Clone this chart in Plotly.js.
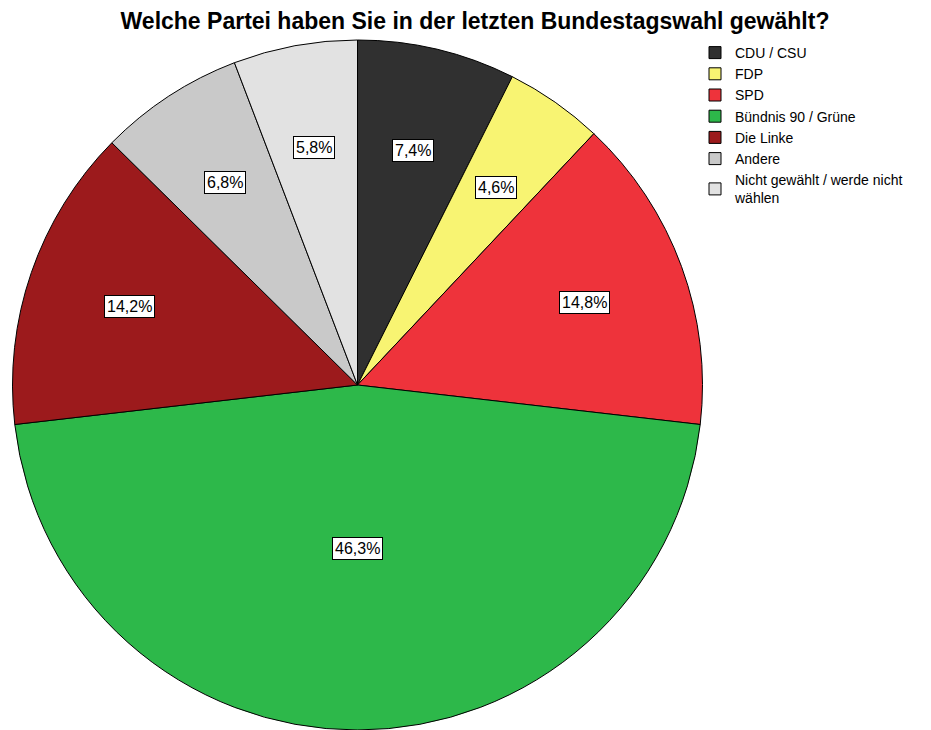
<!DOCTYPE html>
<html>
<head>
<meta charset="utf-8">
<script src="https://cdn.plot.ly/plotly-3.0.1.min.js"></script>
<style>html,body{margin:0;padding:0;background:#fff;}#chart{width:931px;height:730px;}</style>
</head>
<body>
<div id="chart"></div>
<script>
const categories = ["CDU / CSU", "FDP", "SPD", "Bündnis 90 / Grüne", "Die Linke", "Andere", "Nicht gewählt / werde nicht<br>wählen"];
const values = [7.4, 4.6, 14.8, 46.3, 14.2, 6.8, 5.8];
const valueLabels = ["7,4%", "4,6%", "14,8%", "46,3%", "14,2%", "6,8%", "5,8%"];
const colors = ["#303030", "#f8f472", "#ee333b", "#2db84a", "#9c1a1c", "#c9c9c9", "#e2e2e2"];

const W = 931, H = 730;
const domX = [12 / W, 703 / W];
const domY = [0, 1 - 40 / H];

// pie geometry derived from domain (pixels)
const dx0 = domX[0] * W, dx1 = domX[1] * W;
const dyTop = (1 - domY[1]) * H, dyBot = (1 - domY[0]) * H;
const R = Math.min(dx1 - dx0, dyBot - dyTop) / 2;
const cx = (dx0 + dx1) / 2, cy = (dyTop + dyBot) / 2;

const total = values.reduce((a, b) => a + b, 0);
let cum = 0;
const annotations = values.map((v, i) => {
  const frac = v / total;
  const mid = (cum + frac / 2) * 2 * Math.PI;
  cum += frac;
  const half = frac * Math.PI;
  let rf = 2 * Math.sin(half) / (3 * half) + 0.02;
  if (frac < 0.3) rf = 0.7;
  const px = cx + rf * R * Math.sin(mid);
  const py = cy - rf * R * Math.cos(mid);
  return {
    x: px / W, y: 1 - py / H, xref: "paper", yref: "paper",
    text: valueLabels[i], showarrow: false,
    font: {family: "Liberation Sans, Arial, sans-serif", size: 16, color: "#000"},
    bgcolor: "#ffffff", bordercolor: "#000000", borderwidth: 1, borderpad: 2,
    xanchor: "center", yanchor: "middle"
  };
});

const trace = {
  type: "pie",
  labels: categories,
  values: values,
  sort: false,
  direction: "clockwise",
  rotation: 0,
  textinfo: "none",
  hoverinfo: "label+percent",
  marker: {colors: colors, line: {color: "#000000", width: 1}},
  domain: {x: domX, y: domY}
};

const layout = {
  width: W, height: H,
  margin: {l: 0, r: 0, t: 0, b: 0},
  paper_bgcolor: "#ffffff",
  title: {
    text: "<b>Welche Partei haben Sie in der letzten Bundestagswahl gewählt?</b>",
    font: {family: "Liberation Sans, Arial, sans-serif", size: 23, color: "#000"},
    x: 475 / W, xanchor: "center", y: 1 - 21 / H, yanchor: "middle"
  },
  showlegend: true,
  legend: {
    x: 695 / W, xanchor: "left", y: 1 - 37 / H, yanchor: "top",
    font: {family: "Liberation Sans, Arial, sans-serif", size: 14, color: "#000"},
    bgcolor: "rgba(0,0,0,0)", itemwidth: 30, tracegroupgap: 0
  },
  annotations: annotations
};

Plotly.newPlot("chart", [trace], layout, {displayModeBar: false, staticPlot: true});
</script>
</body>
</html>
